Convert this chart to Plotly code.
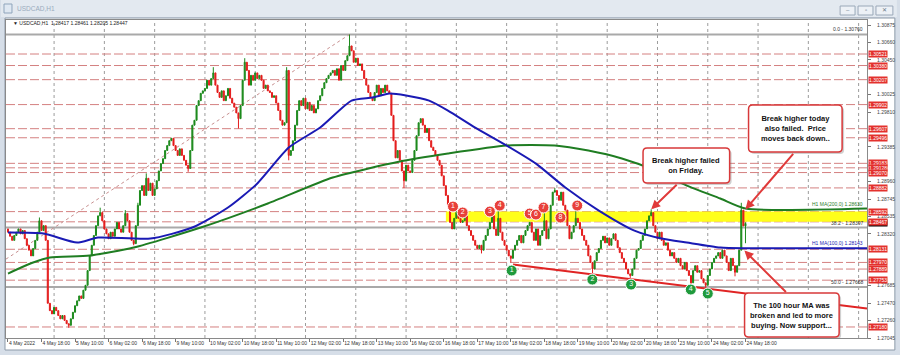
import plotly.graph_objects as go

# ---------------- data ----------------
closes = [
    1.2834, 1.2829, 1.2824, 1.2830, 1.2834, 1.2838, 1.2832, 1.2836, 1.2826, 1.2818, 1.2812, 1.2805, 1.2814, 1.2824, 1.2834, 1.2848,
    1.2836, 1.2842, 1.2824, 1.2747, 1.2738, 1.2734, 1.2742, 1.2738, 1.2732, 1.2728, 1.2732, 1.2726, 1.2722, 1.2720, 1.2728, 1.2736,
    1.2744, 1.2750, 1.2756, 1.2753, 1.2763, 1.2769, 1.2787, 1.2805, 1.2818, 1.2830, 1.2842, 1.2854, 1.2858, 1.2848, 1.2838, 1.2832,
    1.2826, 1.2834, 1.2829, 1.2838, 1.2846, 1.2838, 1.2834, 1.2842, 1.2857, 1.2848, 1.2834, 1.2824, 1.2820, 1.2842, 1.2867, 1.2885,
    1.2891, 1.2879, 1.2900, 1.2885, 1.2894, 1.2879, 1.2887, 1.2897, 1.2909, 1.2918, 1.2924, 1.2934, 1.2940, 1.2946, 1.2949, 1.2940,
    1.2934, 1.2928, 1.2936, 1.2928, 1.2922, 1.2916, 1.2912, 1.2934, 1.2965, 1.2971, 1.2989, 1.2995, 1.3004, 1.3007, 1.3010, 1.3020,
    1.3014, 1.3022, 1.3029, 1.3014, 1.3005, 1.2999, 1.3007, 1.2995, 1.3001, 1.3010, 1.2998, 1.2992, 1.2987, 1.2980, 1.2973, 1.2989,
    1.3020, 1.3042, 1.3032, 1.3014, 1.3026, 1.3020, 1.3029, 1.3022, 1.3026, 1.3020, 1.3010, 1.3014, 1.3007, 1.3005, 1.2999, 1.3001,
    1.2992, 1.2983, 1.2971, 1.2965, 1.2968, 1.3032, 1.2928, 1.2934, 1.2946, 1.2965, 1.2983, 1.2995, 1.2989, 1.2998, 1.2985, 1.2993,
    1.2983, 1.2989, 1.2980, 1.2985, 1.2995, 1.3001, 1.3010, 1.3017, 1.3022, 1.3026, 1.3029, 1.3032, 1.3026, 1.3034, 1.3020, 1.3038,
    1.3032, 1.3044, 1.3050, 1.3062, 1.3056, 1.3042, 1.3047, 1.3038, 1.3040, 1.3032, 1.3022, 1.3014, 1.3005, 1.2999, 1.2995, 1.3005,
    1.3014, 1.3001, 1.3010, 1.3005, 1.3014, 1.3007, 1.3004, 1.2977, 1.2946, 1.2925, 1.2934, 1.2922, 1.2909, 1.2897, 1.2916, 1.2909,
    1.2907, 1.2922, 1.2934, 1.2952, 1.2968, 1.2973, 1.2965, 1.2956, 1.2961, 1.2946, 1.2938, 1.2934, 1.2928, 1.2922, 1.2916, 1.2903,
    1.2891, 1.2879, 1.2867, 1.2846, 1.2838, 1.2851, 1.2858, 1.2851, 1.2846, 1.2848, 1.2854, 1.2842, 1.2836, 1.2830, 1.2824, 1.2818,
    1.2814, 1.2818, 1.2812, 1.2824, 1.2830, 1.2838, 1.2846, 1.2854, 1.2838, 1.2830, 1.2851, 1.2834, 1.2824, 1.2818, 1.2812, 1.2805,
    1.2802, 1.2812, 1.2818, 1.2824, 1.2830, 1.2821, 1.2830, 1.2836, 1.2842, 1.2846, 1.2834, 1.2824, 1.2838, 1.2818, 1.2830, 1.2836,
    1.2848, 1.2826, 1.2838, 1.2867, 1.2883, 1.2885, 1.2879, 1.2873, 1.2883, 1.2867, 1.2861, 1.2842, 1.2826, 1.2834, 1.2842, 1.2851,
    1.2846, 1.2838, 1.2830, 1.2824, 1.2818, 1.2805, 1.2797, 1.2789, 1.2799, 1.2809, 1.2814, 1.2824, 1.2829, 1.2821, 1.2827, 1.2818,
    1.2826, 1.2832, 1.2824, 1.2815, 1.2809, 1.2802, 1.2797, 1.2789, 1.2783, 1.2781, 1.2789, 1.2802, 1.2812, 1.2814, 1.2824, 1.2830,
    1.2838, 1.2848, 1.2854, 1.2858, 1.2842, 1.2834, 1.2826, 1.2834, 1.2824, 1.2818, 1.2821, 1.2812, 1.2805, 1.2809, 1.2802, 1.2797,
    1.2802, 1.2793, 1.2789, 1.2797, 1.2787, 1.2781, 1.2772, 1.2787, 1.2793, 1.2785, 1.2787, 1.2777, 1.2772, 1.2769, 1.2781, 1.2789,
    1.2797, 1.2802, 1.2805, 1.2809, 1.2802, 1.2812, 1.2805, 1.2797, 1.2787, 1.2802, 1.2793, 1.2785, 1.2793, 1.2812, 1.2861, 1.28417,
    1.28447,
]
first_open = 1.2838
hi_idx = [15, 44, 56, 62, 66, 98, 113, 133, 163, 214, 234, 256, 261, 271, 307, 350, 352]
hi_val = [1.2852, 1.2864, 1.2861, 1.2870, 1.2906, 1.3036, 1.3047, 1.3036, 1.3076, 1.2866, 1.2867, 1.2864, 1.2888, 1.2866, 1.2862, 1.2870, 1.28461]
lo_idx = [29, 60, 86, 110, 134, 189, 226, 240, 279, 297, 326, 333, 347, 352]
lo_val = [1.2717, 1.2818, 1.2908, 1.2961, 1.2922, 1.2888, 1.2808, 1.2797, 1.2784, 1.2778, 1.2768, 1.2766, 1.2780, 1.28205]

x_ticklabels = ["4 May 2022", "4 May 18:00", "5 May 10:00", "6 May 02:00", "6 May 18:00", "9 May 10:00",
                "10 May 02:00", "10 May 18:00", "11 May 10:00", "12 May 02:00", "12 May 18:00", "13 May 10:00",
                "16 May 02:00", "16 May 18:00", "17 May 10:00", "18 May 02:00", "18 May 18:00", "19 May 10:00",
                "20 May 02:00", "20 May 18:00", "23 May 10:00", "24 May 02:00", "24 May 18:00"]
# axis tick labels; the ones hidden under the red level labels in the picture are left out
y_ticks = [1.30875, 1.30660, 1.30450, 1.30025, 1.29810, 1.29385, 1.28960,
           1.28745, 1.28535, 1.28320, 1.27685, 1.27470, 1.27260, 1.27045]

ma100_idx = [0, 17, 33, 43, 68, 88, 105, 119, 134, 149, 164, 174, 182, 190, 201, 210, 223, 238, 252, 266, 282, 299, 312, 324, 340, 352]
ma100_val = [1.28336, 1.28324, 1.28213, 1.28275, 1.28262, 1.28397, 1.28642, 1.28936, 1.29376, 1.29621, 1.29951, 1.29988, 1.30037,
             1.30013, 1.29951, 1.29829, 1.29621, 1.29401, 1.29180, 1.28887, 1.28605, 1.28360, 1.28262, 1.28213, 1.28152, 1.28143]
ma200_idx = [0, 12, 20, 39, 60, 92, 124, 155, 187, 210, 238, 261, 277, 293, 309, 324, 340, 352]
ma200_val = [1.27834, 1.27969, 1.28030, 1.28054, 1.28152, 1.28397, 1.28691, 1.29009, 1.29205, 1.29303, 1.29401, 1.29401,
             1.29339, 1.29242, 1.29095, 1.28911, 1.28752, 1.28630]

sr_levels = [1.30521, 1.30380, 1.30207, 1.29902, 1.29607, 1.29496, 1.29183, 1.29128, 1.29070, 1.28882,
             1.28592, 1.28467, 1.28131, 1.27970, 1.27889, 1.27753, 1.27180]
fib_levels = [1.30760, 1.28397, 1.27668]
fib_names = ["0.0", "38.2", "50.0"]
zone_low, zone_high, zone_start = 1.28467, 1.28592, 209
trend_x = [241, 410]
trend_y = [1.27944, 1.27406]
fib_diag_x = [-1, 163]
fib_diag_y = [1.2801, 1.3076]
bid = 1.28447
res_idx = [212.4, 217, 230, 234.7, 249, 252, 255.6, 263.7, 271.7]
res_px = [1.28654, 1.28581, 1.28593, 1.28666, 1.28568, 1.28556, 1.28642, 1.28519, 1.28666]
sup_idx = [240.4, 278.9, 297.4, 325.9, 334]
sup_px = [1.27871, 1.27760, 1.27699, 1.27638, 1.27589]
ohlc_last = ["1.28417", "1.28461", "1.28205", "1.28447"]

# ---------------- derived candles ----------------
n = len(closes)
idx = list(range(n))
opens = [first_open] + closes[:-1]
highs = [max(o, c) for o, c in zip(opens, closes)]
lows = [min(o, c) for o, c in zip(opens, closes)]
for i, v in zip(hi_idx, hi_val):
    highs[i] = max(highs[i], v)
for i, v in zip(lo_idx, lo_val):
    lows[i] = min(lows[i], v)

W, H = 900, 355
ML, MR, MT, MB = 5, 30, 20, 17
PW, PH = W - ML - MR, H - MT - MB
XR = [-0.95, 410.0]
YR = [1.27045, 1.27045 + PH / 8170.0]


def PX(x):
    return (x - ML) / PW


def PY(y):
    return (H - MB - y) / PH


FONT = "Liberation Sans, Arial, sans-serif"
RED = "#e3312d"
fig = go.Figure()

fig.add_trace(go.Candlestick(
    x=idx, open=opens, high=highs, low=lows, close=closes,
    increasing=dict(line=dict(color="#1c8a1c", width=1), fillcolor="#1c8a1c"),
    decreasing=dict(line=dict(color="#e41c1c", width=1), fillcolor="#e41c1c"),
    whiskerwidth=0, showlegend=False, hoverinfo="skip"))

fig.add_trace(go.Scatter(x=ma200_idx + [XR[1]], y=ma200_val + [ma200_val[-1]], mode="lines",
                         line=dict(color="#1f7d22", width=2, shape="spline", smoothing=0.6),
                         showlegend=False, hoverinfo="skip"))
fig.add_trace(go.Scatter(x=ma100_idx + [XR[1]], y=ma100_val + [ma100_val[-1]], mode="lines",
                         line=dict(color="#1a1ab4", width=2, shape="spline", smoothing=0.6),
                         showlegend=False, hoverinfo="skip"))
fig.add_trace(go.Scatter(x=trend_x, y=trend_y, mode="lines", line=dict(color="#e02424", width=2),
                         showlegend=False, hoverinfo="skip"))
fig.add_trace(go.Scatter(x=res_idx, y=res_px, mode="markers+text", text=[str(k + 1) for k in range(len(res_idx))],
                         marker=dict(size=11, color="#e8403a", line=dict(color="white", width=1)),
                         textfont=dict(color="white", size=7, family=FONT), textposition="middle center",
                         showlegend=False, hoverinfo="skip"))
fig.add_trace(go.Scatter(x=sup_idx, y=sup_px, mode="markers+text", text=[str(k + 1) for k in range(len(sup_idx))],
                         marker=dict(size=11, color="#1f9a3c", line=dict(color="white", width=1)),
                         textfont=dict(color="white", size=7, family=FONT), textposition="middle center",
                         showlegend=False, hoverinfo="skip"))

shapes = []
# window frame
shapes.append(dict(type="rect", xref="paper", yref="paper", x0=PX(0), x1=PX(900), y0=PY(17), y1=PY(0),
                   fillcolor="#e3e9f0", line=dict(width=0), layer="below"))
shapes.append(dict(type="rect", xref="paper", yref="paper", x0=PX(4), x1=PX(898), y0=PY(350), y1=PY(18),
                   fillcolor="white", line=dict(color="#8c99a8", width=1), layer="below"))
shapes.append(dict(type="rect", xref="paper", yref="paper", x0=PX(3), x1=PX(11), y0=PY(13), y1=PY(4),
                   fillcolor="#dfe8f2", line=dict(color="#8fa4bb", width=1), layer="below"))
for bx0, bx1 in [(843, 858), (861, 876), (879, 896)]:
    shapes.append(dict(type="rect", xref="paper", yref="paper", x0=PX(bx0), x1=PX(bx1), y0=PY(15), y1=PY(6),
                       fillcolor="#edf1f6", line=dict(color="#9aa8b8", width=1), layer="below"))
# yellow zone
shapes.append(dict(type="rect", xref="x", yref="y", x0=zone_start, x1=XR[1], y0=zone_low, y1=zone_high,
                   fillcolor="#ffff1a", line=dict(width=0), layer="below"))
# vertical dotted grid (each midnight)
for g in range(22, 410, 24):
    shapes.append(dict(type="line", xref="x", yref="paper", x0=g, x1=g, y0=0, y1=1,
                       line=dict(color="#9c9c9c", width=1, dash="dot"), layer="below"))
# dashed s/r levels
for lv in sr_levels:
    shapes.append(dict(type="line", xref="paper", yref="y", x0=0, x1=1, y0=lv, y1=lv,
                       line=dict(color="#d48080", width=1, dash="9px,3px"), layer="below"))
# fib levels
for lv in fib_levels:
    shapes.append(dict(type="line", xref="paper", yref="y", x0=0, x1=1, y0=lv, y1=lv,
                       line=dict(color="#a9a9a9", width=2), layer="below"))
shapes.append(dict(type="line", xref="x", yref="y", x0=fib_diag_x[0], x1=fib_diag_x[1], y0=fib_diag_y[0], y1=fib_diag_y[1],
                   line=dict(color="#c89090", width=1, dash="dot"), layer="below"))


def rbox(x0, y0, x1, y1, r):
    return (f"M {PX(x0 + r)},{PY(y0)} L {PX(x1 - r)},{PY(y0)} Q {PX(x1)},{PY(y0)} {PX(x1)},{PY(y0 + r)} "
            f"L {PX(x1)},{PY(y1 - r)} Q {PX(x1)},{PY(y1)} {PX(x1 - r)},{PY(y1)} "
            f"L {PX(x0 + r)},{PY(y1)} Q {PX(x0)},{PY(y1)} {PX(x0)},{PY(y1 - r)} "
            f"L {PX(x0)},{PY(y0 + r)} Q {PX(x0)},{PY(y0)} {PX(x0 + r)},{PY(y0)} Z")


boxes = [
    ((645, 148, 732, 183), "<b>Break higher failed<br>on Friday.</b>"),
    ((751, 105, 845, 152), "<b>Break higher today<br>also failed.  Price<br>moves back down..</b>"),
    ((747, 293, 842, 337), "<b>The 100 hour MA was<br>broken and led to more<br>buying. Now support...</b>"),
]
for (x0, y0, x1, y1), _ in boxes:
    shapes.append(dict(type="path", xref="paper", yref="paper", path=rbox(x0 + 2, y0 + 2, x1 + 2, y1 + 2, 4),
                       fillcolor="rgba(120,120,120,0.35)", line=dict(width=0), layer="above"))
    shapes.append(dict(type="path", xref="paper", yref="paper", path=rbox(x0, y0, x1, y1, 4),
                       fillcolor="white", line=dict(color="#d8393a", width=1.5), layer="above"))

ann = []
for (x0, y0, x1, y1), txt in boxes:
    ann.append(dict(xref="paper", yref="paper", x=PX((x0 + x1) / 2), y=PY((y0 + y1) / 2), text=txt,
                    xanchor="center", yanchor="middle",
                    showarrow=False, align="center", font=dict(size=7.5, color="#111111", family=FONT)))
# arrows (tip at data point, tail at the box)
for tx, ty, axp, ayp in [(307, 1.2862, 27, -26), (352, 1.2862, 49, -57), (351.5, 1.28115, 43, 43)]:
    ann.append(dict(x=tx, y=ty, xref="x", yref="y", ax=axp, ay=ayp, text="", showarrow=True,
                    arrowhead=2, arrowsize=0.9, arrowwidth=2, arrowcolor="#e03a3a"))
# price labels on the axis
ann.append(dict(xref="paper", yref="y", x=1, y=bid, xanchor="left", xshift=1, text=f"{bid:.5f}",
                showarrow=False, bgcolor="black", borderpad=0, font=dict(size=5, color="white", family=FONT)))
for lv in sr_levels:
    ann.append(dict(xref="paper", yref="y", x=1, y=lv, xanchor="left", xshift=1, text=f"{lv:.5f}",
                    showarrow=False, bgcolor=RED, borderpad=0, font=dict(size=5, color="white", family=FONT)))
for lv, nm in zip(fib_levels, fib_names):
    ann.append(dict(xref="paper", yref="y", x=1, y=lv, xanchor="right", yanchor="bottom", xshift=-2,
                    text=f"{nm} - {lv:.5f}", showarrow=False, font=dict(size=5, color="#333333", family=FONT)))
ann.append(dict(xref="paper", yref="y", x=1, y=ma200_val[-1], xanchor="right", yanchor="bottom", xshift=-2,
                text=f"H1 MA(200,0) {ma200_val[-1]:.5f}", showarrow=False,
                font=dict(size=5, color="#2c7d2c", family=FONT)))
ann.append(dict(xref="paper", yref="y", x=1, y=ma100_val[-1], xanchor="right", yanchor="bottom", xshift=-2,
                text=f"H1 MA(100,0) {ma100_val[-1]:.5f}", showarrow=False,
                font=dict(size=5, color="#2222b0", family=FONT)))
ann.append(dict(xref="paper", yref="paper", x=PX(10), y=PY(23), xanchor="left", yanchor="middle",
                text="\u25bc USDCAD,H1  " + " ".join(ohlc_last), showarrow=False,
                font=dict(size=5, color="#222222", family=FONT)))
ann.append(dict(xref="paper", yref="paper", x=PX(14), y=PY(9), xanchor="left", yanchor="middle",
                text="USDCAD,H1", showarrow=False, font=dict(size=6.5, color="#9aabbd", family=FONT)))
for cx, g in [(850.5, "\u2013"), (868.5, "\u25ab"), (887.5, "\u2715")]:
    ann.append(dict(xref="paper", yref="paper", x=PX(cx), y=PY(10.5), text=g, showarrow=False,
                    xanchor="center", yanchor="middle",
                    font=dict(size=6, color="#6a7888", family=FONT)))

fig.update_layout(
    width=W, height=H, margin=dict(l=ML, r=MR, t=MT, b=MB),
    paper_bgcolor="#d6dee8", plot_bgcolor="white",
    shapes=shapes, annotations=ann, showlegend=False,
    xaxis=dict(range=XR, rangeslider=dict(visible=False), showgrid=False, zeroline=False,
               tickmode="array", tickvals=list(range(0, 16 * len(x_ticklabels), 16)), ticktext=x_ticklabels,
               tickangle=0, ticks="outside", ticklen=3, tickcolor="#777777", ticklabelposition="outside right",
               tickfont=dict(size=5, color="#333333", family=FONT),
               showline=True, linecolor="#8a8a8a", linewidth=1, mirror=True, fixedrange=True),
    yaxis=dict(range=YR, side="right", showgrid=False, zeroline=False, tickmode="array",
               tickvals=y_ticks, ticktext=[f"{v:.5f}" for v in y_ticks],
               ticks="outside", ticklen=3, tickcolor="#777777", ticklabelstandoff=5,
               tickfont=dict(size=5, color="#444444", family=FONT),
               showline=True, linecolor="#8a8a8a", linewidth=1, mirror=True, fixedrange=True),
)

fig.write_html("out.html")
